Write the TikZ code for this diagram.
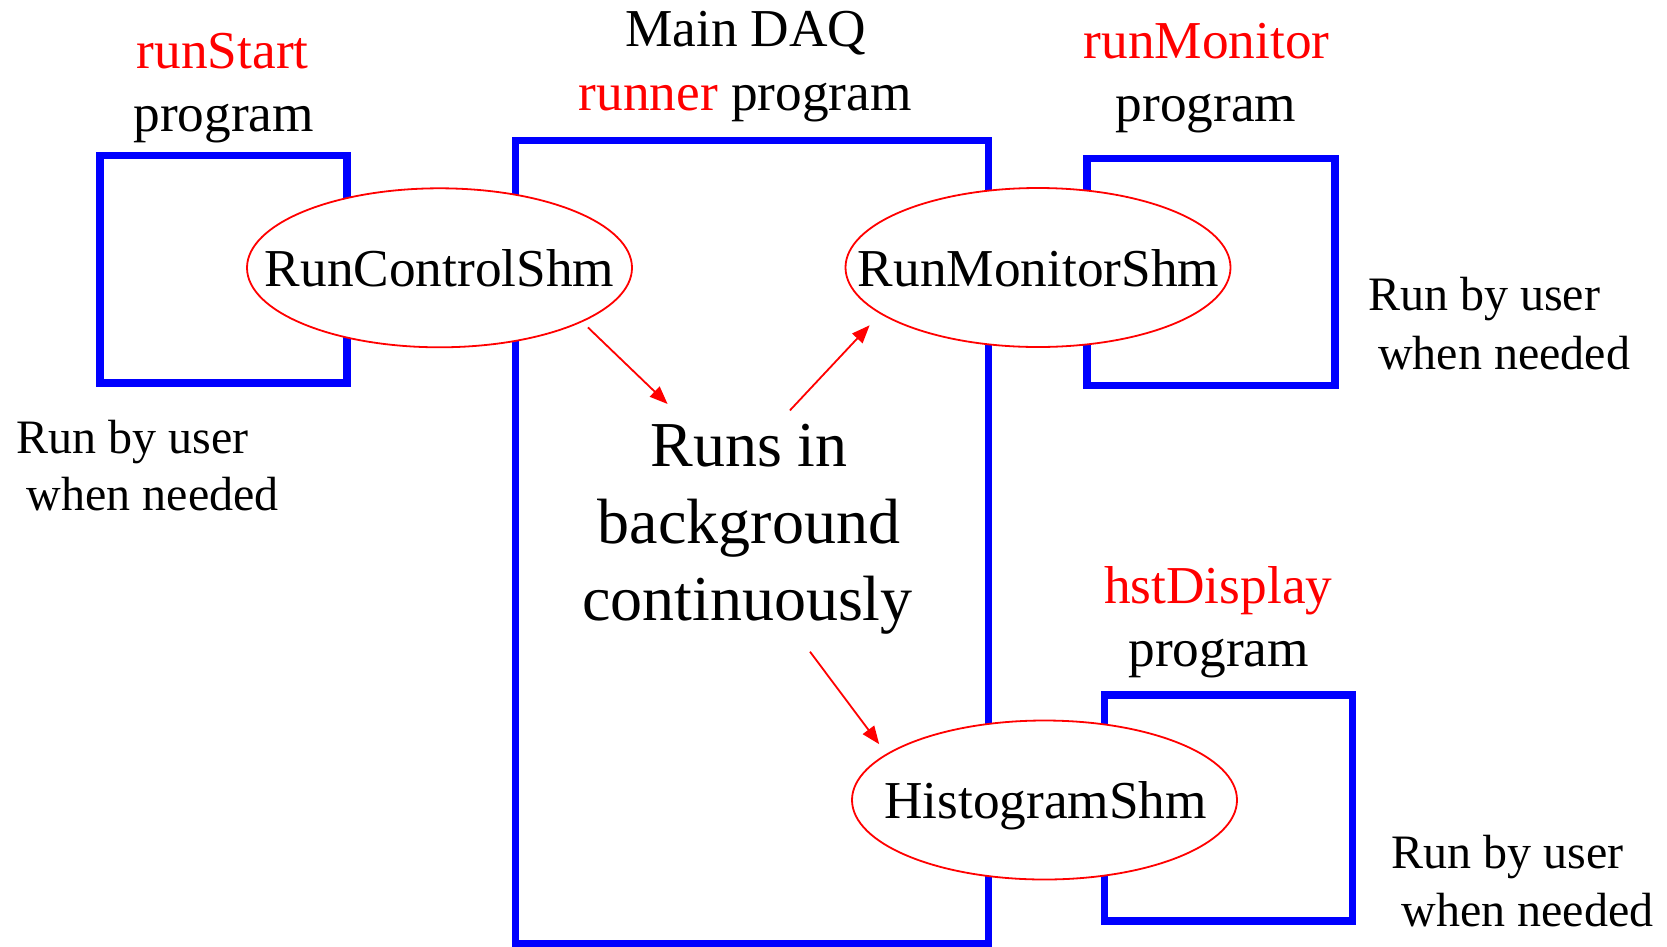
\documentclass[tikz,border=0pt]{standalone}
\usepackage{fontspec}
\setmainfont{Liberation Serif}
\usetikzlibrary{shapes.geometric,arrows.meta}
\tikzset{
 prog/.style={draw=blue, line width=7.5pt, inner sep=0pt},
 shm/.style={ellipse, draw=red, fill=white, line width=1.8pt, minimum width=385pt, minimum height=159pt, inner sep=0pt},
 shmtext/.style={font=\fontsize{53.3}{64}\selectfont, inner sep=0pt, anchor=base},
 lbl/.style={font=\fontsize{53.3}{64}\selectfont, inner sep=0pt, anchor=base},
 note/.style={font=\fontsize{48}{58}\selectfont, inner sep=0pt, anchor=base west},
 big/.style={font=\fontsize{64}{76}\selectfont, inner sep=0pt, anchor=base},
 arr/.style={draw=red, line width=1.8pt, -{Triangle[length=18pt,width=14pt]}}
}
\begin{document}
\begin{tikzpicture}[x=1pt,y=-1pt]
\useasboundingbox (0,0) rectangle (1667,946);
% program boxes
\node[prog, minimum width=247pt, minimum height=227.5pt] (rsbox) at (223.4,269.2) {};
\node[prog, minimum width=473pt, minimum height=803pt] (mainbox) at (752.2,542.2) {};
\node[prog, minimum width=248pt, minimum height=227pt] (rmbox) at (1210.9,272.2) {};
\node[prog, minimum width=248pt, minimum height=226pt] (hdbox) at (1228.3,808) {};
% labels
\node[lbl, text=red] (rsname) at (222.7,68.3) {runStart};
\node[lbl] (rsprog) at (223.8,131.7) {program};
\node[lbl] (mainname) at (745.8,46.7) {Main DAQ};
\node[lbl] (mainprog) at (745.2,110) {\textcolor{red}{runner} program};
\node[lbl, text=red] (rmname) at (1206.6,58.3) {runMonitor};
\node[lbl] (rmprog) at (1206.1,121.7) {program};
\node[lbl, text=red] (hdname) at (1218.3,603.3) {hstDisplay};
\node[lbl] (hdprog) at (1218.8,666.7) {program};
% ellipses
\node[shm] (rcs) at (439.5,267.8) {};
\node[shmtext] (rcst) at (439.6,286.7) {RunControlShm};
\node[shm] (rms) at (1038,267.5) {};
\node[shmtext] (rmst) at (1038.6,286.7) {RunMonitorShm};
\node[shm] (hs) at (1044.5,800) {};
\node[shmtext] (hst) at (1045.6,818.3) {HistogramShm};
% center text
\node[big] (t1) at (749,466.7) {Runs in};
\node[big] (t2) at (749,543.3) {background};
\node[big] (t3) at (747.4,620) {continuously};
% notes
\node[note] (n1a) at (16.7,453.3) {Run by user};
\node[note] (n1b) at (26.7,510) {when needed};
\node[note] (n2a) at (1368,310) {Run by user};
\node[note] (n2b) at (1378,369) {when needed};
\node[note] (n3a) at (1391.3,868.3) {Run by user};
\node[note] (n3b) at (1401.3,926.5) {when needed};
% arrows
\coordinate (a1s) at (587.9,327.4);
\coordinate (a1e) at (667.6,404);
\coordinate (a2s) at (789.9,410.4);
\coordinate (a2e) at (869.6,325.3);
\coordinate (a3s) at (810,651.7);
\coordinate (a3e) at (879.2,744.2);
\draw[arr] (a1s) -- (a1e);
\draw[arr] (a2s) -- (a2e);
\draw[arr] (a3s) -- (a3e);
\end{tikzpicture}
\end{document}
